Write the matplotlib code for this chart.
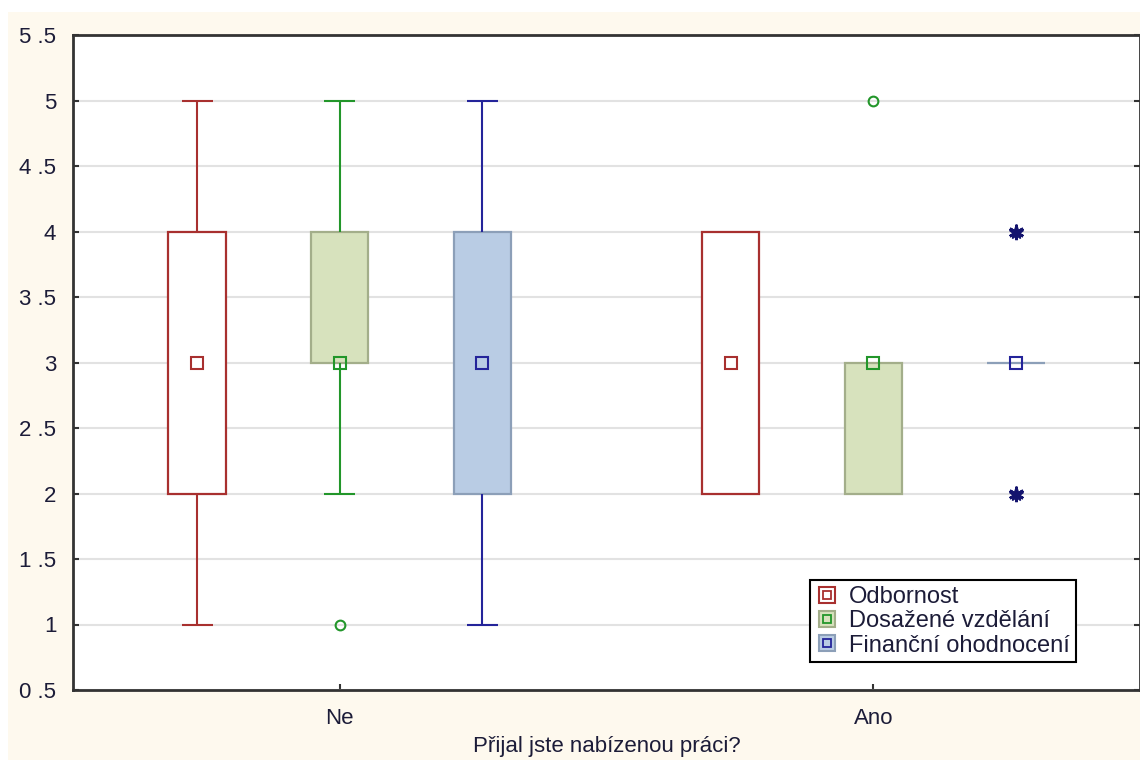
import matplotlib
matplotlib.use("Agg")
import matplotlib.pyplot as plt
from matplotlib.lines import Line2D
from matplotlib.patches import Rectangle

plt.rcParams['font.family'] = ['Liberation Sans', 'DejaVu Sans']

# ---- data ----
groups = ['Ne', 'Ano']
series = ['Odbornost', 'Dosažené vzdělání', 'Finanční ohodnocení']
medians = [[3, 3], [3, 3], [3, 3]]
q1 = [[2, 2], [3, 2], [2, 3]]
q3 = [[4, 4], [4, 3], [4, 3]]
whisk_lo = [[1, 2], [2, 2], [1, 3]]
whisk_hi = [[5, 4], [5, 3], [5, 3]]
outliers = [[[], []], [[1], [5]], [[], []]]
extremes = [[[], []], [[], []], [[], [2, 4]]]
yticks = [0.5, 1, 1.5, 2, 2.5, 3, 3.5, 4, 4.5, 5, 5.5]
ytick_labels = ['0 .5', '1', '1 .5', '2', '2 .5', '3', '3 .5', '4', '4 .5', '5', '5 .5']
xlabel = 'Přijal jste nabízenou práci?'

# ---- styles ----
line_colors = ['#a8302f', '#22962a', '#24249a']
box_faces = ['#ffffff', '#d7e2bd', '#b9cce4']
box_edges = ['#a8302f', '#a3ae8a', '#8c9fb8']
offsets = [-0.2675, 0.0, 0.2675]
box_w = 0.107
cap_w = 0.058
text_color = '#1c1c38'
fs = 16

fig = plt.figure(figsize=(11.4, 7.6), dpi=100)
fig.patch.set_facecolor('white')
fig.patches.append(Rectangle((8 / 1140, 0), 1, (760 - 12) / 760, transform=fig.transFigure,
                             facecolor='#fef9ee', edgecolor='none', zorder=-10))
ax = fig.add_axes([73 / 1140, 70 / 760, (1140 - 73) / 1140, (690 - 35) / 760])
ax.set_facecolor('white')

for s in range(3):
    for g in range(2):
        x = g + offsets[s]
        lo, hi = q1[s][g], q3[s][g]
        ax.add_patch(Rectangle((x - box_w / 2, lo), box_w, hi - lo, facecolor=box_faces[s],
                               edgecolor=box_edges[s], linewidth=1.6, zorder=2))
        if whisk_hi[s][g] > hi:
            ax.vlines(x, hi, whisk_hi[s][g], color=line_colors[s], lw=1.5, zorder=2)
            ax.hlines(whisk_hi[s][g], x - cap_w / 2, x + cap_w / 2, color=line_colors[s], lw=1.5, zorder=2)
        if whisk_lo[s][g] < lo:
            ax.vlines(x, whisk_lo[s][g], lo, color=line_colors[s], lw=1.5, zorder=2)
            ax.hlines(whisk_lo[s][g], x - cap_w / 2, x + cap_w / 2, color=line_colors[s], lw=1.5, zorder=2)
        ax.plot([x], [medians[s][g]], marker='s', ms=8, mfc='none', mec=line_colors[s], mew=1.5,
                ls='none', zorder=4)
        if outliers[s][g]:
            ax.plot([x] * len(outliers[s][g]), outliers[s][g], marker='o', ms=7, mfc='none',
                    mec=line_colors[s], mew=1.5, ls='none', zorder=4)
        if extremes[s][g]:
            ax.plot([x] * len(extremes[s][g]), extremes[s][g], marker='*', ms=11,
                    color='#14146e', ls='none', zorder=4)
            ax.plot([x] * len(extremes[s][g]), extremes[s][g], marker=(6, 2, 0), ms=11, mew=2,
                    color='#14146e', ls='none', zorder=4)

ax.set_xlim(-0.5, 1.5)
ax.set_ylim(0.5, 5.5)
ax.set_yticks(yticks)
ax.set_yticklabels(ytick_labels)
ax.set_xticks([0, 1])
ax.set_xticklabels(groups)
ax.yaxis.grid(True, color='#e2e2e2', lw=1.5, zorder=0)
ax.set_axisbelow(True)
ax.tick_params(axis='y', direction='in', length=4, width=1.5, color='#333333', pad=12,
               labelsize=fs, labelcolor=text_color, right=True)
ax.tick_params(axis='x', direction='in', length=4, width=1.5, color='#333333', pad=13,
               labelsize=fs, labelcolor=text_color)
for sp in ax.spines.values():
    sp.set_color('#333333')
    sp.set_linewidth(2)
ax.set_xlabel(xlabel, fontsize=fs, color=text_color, labelpad=5)

handles = []
for s in range(3):
    big = Line2D([], [], marker='s', ms=12, mfc=box_faces[s], mec=box_edges[s], mew=1.5, ls='none')
    small = Line2D([], [], marker='s', ms=6, mfc='none', mec=line_colors[s], mew=1.3, ls='none')
    handles.append((big, small))
leg = ax.legend(handles, series, loc='upper left', bbox_to_anchor=(0.691, 0.168), borderaxespad=0,
                fontsize=fs + 1, frameon=True, fancybox=False, framealpha=1, edgecolor='black',
                handlelength=0.9, handletextpad=0.5, labelspacing=0.1, borderpad=0.25)
leg.get_frame().set_linewidth(1.5)
for t in leg.get_texts():
    t.set_color(text_color)

fig.savefig('out.png', dpi=100)
